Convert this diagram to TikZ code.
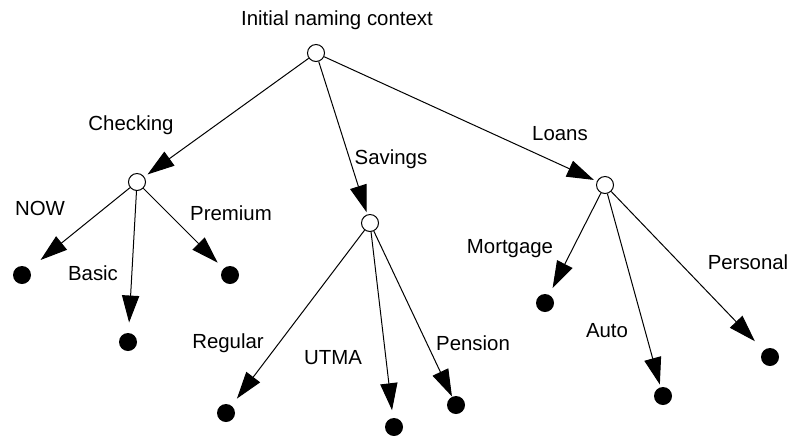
\documentclass[tikz,border=0pt]{standalone}
\usepackage{fontspec}
\setmainfont{Liberation Sans}
\usetikzlibrary{arrows.meta, positioning}

\begin{document}
\begin{tikzpicture}[x=0.5pt, y=-0.5pt, line width=0.5pt, >={Triangle[length=13.5pt, width=8.6pt]}]
    % Styles
    \tikzstyle{ctx} = [circle, draw, fill=white, minimum size=8.5pt, inner sep=0pt]
    \tikzstyle{obj} = [circle, fill=black, minimum size=9pt, inner sep=0pt]
    \tikzstyle{lbl} = [anchor=base, inner sep=0pt, font=\fontsize{10.2}{12}\selectfont]
    \tikzstyle{line} = [draw, ->]

    \useasboundingbox (0,0) rectangle (796,435);

    % Contexts
    \node [ctx] (root) at (316,53) {};
    \node [ctx] (chk) at (137,182) {};
    \node [ctx] (sav) at (370,223) {};
    \node [ctx] (loans) at (605,185) {};

    % Objects
    \node [obj] (now) at (22,275) {};
    \node [obj] (basic) at (128,342) {};
    \node [obj] (prem) at (230,275) {};
    \node [obj] (reg) at (226,413) {};
    \node [obj] (utma) at (394,427) {};
    \node [obj] (pens) at (456,405) {};
    \node [obj] (mort) at (545,303) {};
    \node [obj] (auto) at (663,396) {};
    \node [obj] (pers) at (770,357) {};

    % Names
    \node [lbl] at (337,25) {Initial naming context};
    \node [lbl] at (131,130) {Checking};
    \node [lbl] at (391,164) {Savings};
    \node [lbl] at (560,140) {Loans};
    \node [lbl] at (40,215) {NOW};
    \node [lbl] at (93,280) {Basic};
    \node [lbl] at (231,220) {Premium};
    \node [lbl] at (228,348) {Regular};
    \node [lbl] at (333,364) {UTMA};
    \node [lbl] at (473,350) {Pension};
    \node [lbl] at (510,253) {Mortgage};
    \node [lbl] at (607,337) {Auto};
    \node [lbl] at (748,269) {Personal};

    % Bindings
    \path [line, shorten >=2pt] (root) -- (chk);
    \path [line, shorten >=1.2pt] (root) -- (sav);
    \path [line, shorten >=1.6pt] (root) -- (loans);
    \path [line, shorten >=7.2pt] (chk) -- (now);
    \path [line, shorten >=5pt] (chk) -- (basic);
    \path [line, shorten >=4pt] (chk) -- (prem);
    \path [line, shorten >=4.3pt] (sav) -- (reg);
    \path [line, shorten >=3.7pt] (sav) -- (utma);
    \path [line] (sav) -- (pens);
    \path [line, shorten >=3.6pt] (loans) -- (mort);
    \path [line, shorten >=1.2pt] (loans) -- (auto);
    \path [line, shorten >=6.2pt] (loans) -- (pers);

\end{tikzpicture}
\end{document}
